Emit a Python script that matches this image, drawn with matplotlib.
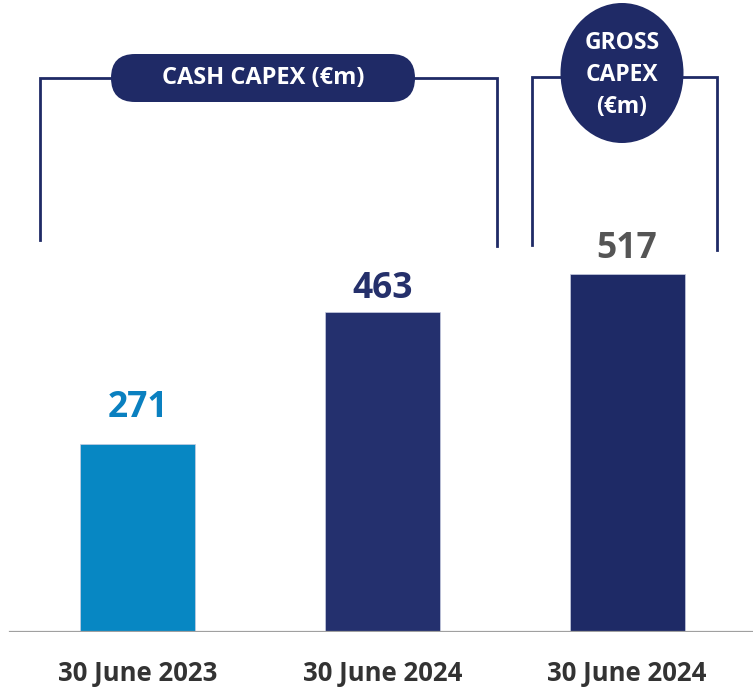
import matplotlib.pyplot as plt
from matplotlib.patches import FancyBboxPatch, Ellipse

# data
periods = ['30 June 2023', '30 June 2024', '30 June 2024']
capex = [271, 463, 517]
bar_colors = ['#0787c3', '#24306e', '#1e2a66']
label_colors = ['#0a80c0', '#25306b', '#555555']
label_gap = [20, 9.5, 11.5]  # points above bar top

navy = '#1f2a66'
plt.rcParams['font.family'] = ['Open Sans', 'DejaVu Sans']
plt.rcParams['font.weight'] = 'bold'

fig = plt.figure(figsize=(7.53, 6.87), dpi=100)
ax = fig.add_axes([0, 55 / 687, 1, 632 / 687])

x = range(len(capex))
ax.bar(x, capex, width=0.47, color=bar_colors, edgecolor='#c8cde0', linewidth=0.5)
ax.set_xlim(-0.564, 2.515)
ax.set_ylim(0, 913)
for s in ax.spines.values():
    s.set_visible(False)
ax.axhline(0, xmin=10 / 753, xmax=1, color='#a0a0a0', lw=1.6)
ax.set_yticks([])
ax.set_xticks(list(x))
ax.set_xticklabels(periods, fontsize=18.5, color='#333333', fontweight='bold')
ax.tick_params(axis='x', length=0, pad=20)

for i, v in enumerate(capex):
    ax.annotate(str(v), (i, v), xytext=(0, label_gap[i]), textcoords='offset points',
                ha='center', va='baseline', fontsize=25.5, fontweight='bold',
                color=label_colors[i])

# overlay in pixel coordinates for brackets and badges
ov = fig.add_axes([0, 0, 1, 1], zorder=5)
ov.set_xlim(0, 753)
ov.set_ylim(687, 0)
ov.axis('off')
ov.patch.set_alpha(0)

lw = 2.0
ov.plot([40, 40, 497, 497], [240, 78, 78, 246], color=navy, lw=lw, solid_joinstyle='miter')
ov.plot([532, 532, 717, 717], [245, 77, 77, 250], color=navy, lw=lw, solid_joinstyle='miter')

ov.add_patch(FancyBboxPatch((111, 54), 304, 48, boxstyle='round,pad=0,rounding_size=24',
                            fc=navy, ec='none', mutation_aspect=1))
ov.text(263, 78, 'CASH CAPEX (€m)', ha='center', va='center', color='white',
        fontsize=17, fontweight='bold')

ov.add_patch(Ellipse((622, 73), 123, 140, fc=navy, ec='none'))
ov.text(622, 75, 'GROSS\nCAPEX\n(€m)', ha='center', va='center', color='white',
        fontsize=16.5, fontweight='bold', linespacing=1.45)

fig.savefig('out.png', dpi=100)
